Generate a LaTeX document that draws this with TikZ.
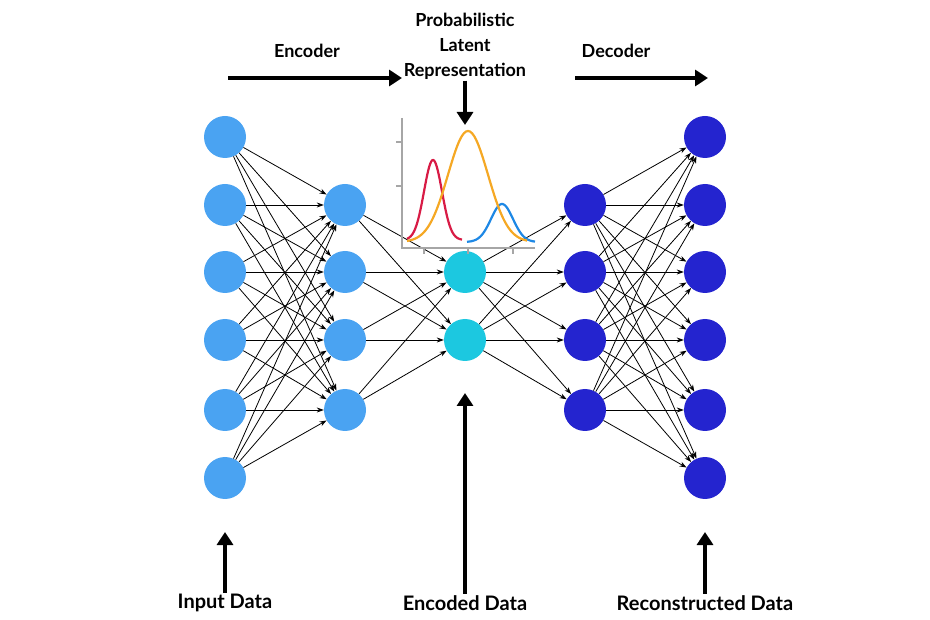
\documentclass[tikz,border=0pt]{standalone}
\usepackage{fontspec}
\setmainfont{Lato}
\usetikzlibrary{arrows.meta}
\definecolor{cin}{HTML}{4AA3F2}
\definecolor{cenc}{HTML}{1CC8E0}
\definecolor{cout}{HTML}{2424CF}
\definecolor{cred}{HTML}{D81B45}
\definecolor{corg}{HTML}{F5A824}
\definecolor{cblu}{HTML}{1E88E5}
\tikzset{
  neuron/.style={circle,minimum size=42pt,inner sep=0pt},
  link/.style={-{Stealth[length=7pt,width=5pt]},line width=0.8pt},
  bigarrow/.style={-{Triangle[length=13pt,width=16pt]},line width=4pt},
  lbl/.style={font=\fontsize{18}{25}\selectfont\bfseries},
  blbl/.style={font=\fontsize{20}{24}\selectfont\bfseries},
  curve/.style={line width=2.2pt,smooth,samples=60}
}
\begin{document}
\begin{tikzpicture}[x=1pt,y=-1pt]
\useasboundingbox (0,0) rectangle (930,620);
% layers
\foreach \i/\y in {1/137,2/205,3/272,4/340,5/410,6/478}{\node[neuron,fill=cin](a\i) at (225,\y){};}
\foreach \i/\y in {1/205,2/272,3/340,4/410}{\node[neuron,fill=cin](b\i) at (345,\y){};}
\foreach \i/\y in {1/272,2/340}{\node[neuron,fill=cenc](c\i) at (465,\y){};}
\foreach \i/\y in {1/205,2/272,3/340,4/410}{\node[neuron,fill=cout](d\i) at (585,\y){};}
\foreach \i/\y in {1/137,2/205,3/272,4/340,5/410,6/478}{\node[neuron,fill=cout](e\i) at (705,\y){};}
% connections
\foreach \i in {1,...,6}{\foreach \j in {1,...,4}{\draw[link](a\i)--(b\j);}}
\foreach \i in {1,...,4}{\foreach \j in {1,2}{\draw[link](b\i)--(c\j);}}
\foreach \i in {1,2}{\foreach \j in {1,...,4}{\draw[link](c\i)--(d\j);}}
\foreach \i in {1,...,4}{\foreach \j in {1,...,6}{\draw[link](d\i)--(e\j);}}
% latent plot
\draw[gray!70,line width=2pt](402,118)--(402,248)--(535,248);
\foreach \y in {142,186}{\draw[gray!70,line width=1.5pt](396,\y)--(402,\y);}
\foreach \x in {424,468,513}{\draw[gray!70,line width=1.5pt](\x,248)--(\x,254);}
\draw[curve,cred] plot[domain=407:462] (\x,{240-80*exp(-((\x-433)^2)/(2*9^2))});
\draw[curve,cblu] plot[domain=467:535] (\x,{242-38*exp(-((\x-502)^2)/(2*11^2))});
\draw[curve,corg] plot[domain=407:527] (\x,{242-111*exp(-((\x-468)^2)/(2*20^2))});
% titles
\node[lbl](tenc) at (307,51){Encoder};
\node[lbl](tdec) at (616,51){Decoder};
\node[lbl,align=center](tlat) at (465,46){Probabilistic\\Latent\\Representation};
\coordinate(ea) at (228,78);\coordinate(eb) at (402,78);
\coordinate(da) at (575,78);\coordinate(db) at (708,78);
\draw[bigarrow](ea)--(eb);
\draw[bigarrow](da)--(db);
\coordinate(pt) at (465,125);
\draw[bigarrow]([yshift=2pt]tlat.south)--(pt);
\node[blbl](tin) at (225,603){Input Data};
\node[blbl](tcode) at (465,603){Encoded Data};
\node[blbl](tout) at (705,603){Reconstructed Data};
\coordinate(ia) at (225,532);\coordinate(ca) at (465,393);\coordinate(oa) at (705,532);
\draw[bigarrow]([yshift=-2pt]tin.north)--(ia);
\draw[bigarrow]([yshift=-2pt]tcode.north)--(ca);
\draw[bigarrow]([yshift=-2pt]tout.north)--(oa);
\end{tikzpicture}
\end{document}
